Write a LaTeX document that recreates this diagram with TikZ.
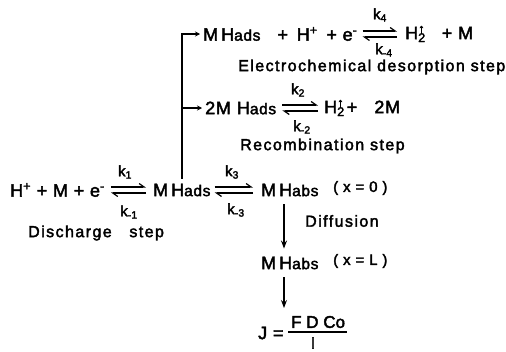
\documentclass[tikz,border=0pt]{standalone}
\usepackage{fontspec}
\setmainfont[FakeBold=2.4]{Liberation Sans}
\usepackage{tikz}
\usetikzlibrary{positioning,arrows.meta}
\newcommand{\adsub}{{\fontsize{15.5}{15}\selectfont ads}}
\newcommand{\absub}{{\fontsize{15.5}{15}\selectfont abs}}
\newcommand{\gasup}{H\rlap{\textsubscript{2}}\raisebox{6pt}{\fontsize{13}{13}\selectfont↑}}
\begin{document}
\begin{tikzpicture}[
  every node/.style={inner sep=0pt, anchor=west, text=black},
  species/.style={font=\fontsize{18}{18}\addfontfeature{LetterSpace=4}\selectfont},
  caption/.style={font=\fontsize{16}{16}\addfontfeature{LetterSpace=9}\selectfont},
  position/.style={font=\fontsize{15}{15}\addfontfeature{LetterSpace=5}\selectfont},
  rate/.style={font=\fontsize{15}{15}\selectfont, anchor=center},
  bus/.style={line width=1.3pt},
  fwd/.style={line width=1.2pt, -{Straight Barb[left, length=5pt, width=7pt]}},
  flow/.style={line width=1.2pt, -{Stealth[length=8pt, width=6pt]}},
  x=1pt, y=-1pt
]
  \useasboundingbox (0,0) rectangle (506,351);

  \node[species] (desl)  at (203,  34) {M\,H\adsub\ \ \ + \,H\textsuperscript{+} \,+ e\textsuperscript{-}};
  \node[species] (desr)  at (405,  34) {\gasup\ \ \ + M};
  \node[rate]    (kf4)   at (380,  15) {k\textsubscript{4}};
  \node[rate]    (kb4)   at (384,  50) {k\textsubscript{-4}};
  \node[caption] (descap) at (238, 67) {Electrochemical desorption step};

  \node[species] (recl)  at (205, 108) {2M\,\,H\adsub};
  \node[species] (recr)  at (324, 108) {\gasup\,+\ \ \ 2M};
  \node[rate]    (kf2)   at (298,  90) {k\textsubscript{2}};
  \node[rate]    (kb2)   at (302, 127) {k\textsubscript{-2}};
  \node[caption] (reccap) at (240, 146) {Recombination step};

  \node[species] (dis)   at (10,  190) {H\textsuperscript{+} + M + e\textsuperscript{-}};
  \node[species] (ads)   at (153, 190) {M\,H\adsub};
  \node[species] (abso)  at (261, 190) {M\,H\absub};
  \node[position] (xo)   at (333, 188) {( x = 0 )};
  \node[rate]    (kf1)   at (125, 172) {k\textsubscript{1}};
  \node[rate]    (kb1)   at (129, 212) {k\textsubscript{-1}};
  \node[rate]    (kf3)   at (232, 172) {k\textsubscript{3}};
  \node[rate]    (kb3)   at (236, 210) {k\textsubscript{-3}};
  \node[caption] (discap) at (28, 233) {Discharge\ \ \ step};

  \node[caption] (dif)   at (305, 221) {Diffusion};
  \node[species] (absl)  at (261, 263) {M\,H\absub};
  \node[position] (xl)   at (333, 261) {( x = L )};

  \node[species] (flux)  at (258, 333) {J =};
  \node[species, font=\fontsize{17}{17}\selectfont] (fdc) at (291, 322) {F D Co};
  \node[rate, font=\fontsize{16}{16}\selectfont] (len) at (313, 343) {l};
  \coordinate (fluxtop) at (284, 308);
  \coordinate (barl) at (288, 332);
  \coordinate (barr) at (347, 332);

  \draw[bus] (barl) -- (barr);

  \draw[fwd] ([xshift=5pt, yshift=3pt]desl.east) -- ([xshift=-8pt, yshift=3pt]desr.west);
  \draw[fwd] ([xshift=-8pt, yshift=-3pt]desr.west) -- ([xshift=5pt, yshift=-3pt]desl.east);
  \draw[fwd] ([xshift=6pt, yshift=3pt]recl.east) -- ([xshift=-6pt, yshift=3pt]recr.west);
  \draw[fwd] ([xshift=-6pt, yshift=-3pt]recr.west) -- ([xshift=6pt, yshift=-3pt]recl.east);
  \draw[fwd] ([xshift=6pt, yshift=3pt]dis.east) -- ([xshift=-7pt, yshift=3pt]ads.west);
  \draw[fwd] ([xshift=-7pt, yshift=-3pt]ads.west) -- ([xshift=6pt, yshift=-3pt]dis.east);
  \draw[fwd] ([xshift=4pt, yshift=3pt]ads.east) -- ([xshift=-8pt, yshift=3pt]abso.west);
  \draw[fwd] ([xshift=-8pt, yshift=-3pt]abso.west) -- ([xshift=4pt, yshift=-3pt]ads.east);

  \draw[bus, -{Stealth[length=5pt, width=5pt]}] ([xshift=29pt, yshift=5pt]ads.north west) |- ([xshift=-3pt]desl.west);
  \draw[bus, -{Stealth[length=5pt, width=5pt]}] ([xshift=29pt, yshift=5pt]ads.north west) |- ([xshift=-3pt]recl.west);

  \draw[flow] ([xshift=23pt, yshift=-8pt]abso.south west) -- ([xshift=23pt, yshift=8pt]absl.north west);
  \draw[flow] ([xshift=23pt, yshift=-8pt]absl.south west) -- (fluxtop);
\end{tikzpicture}
\end{document}
